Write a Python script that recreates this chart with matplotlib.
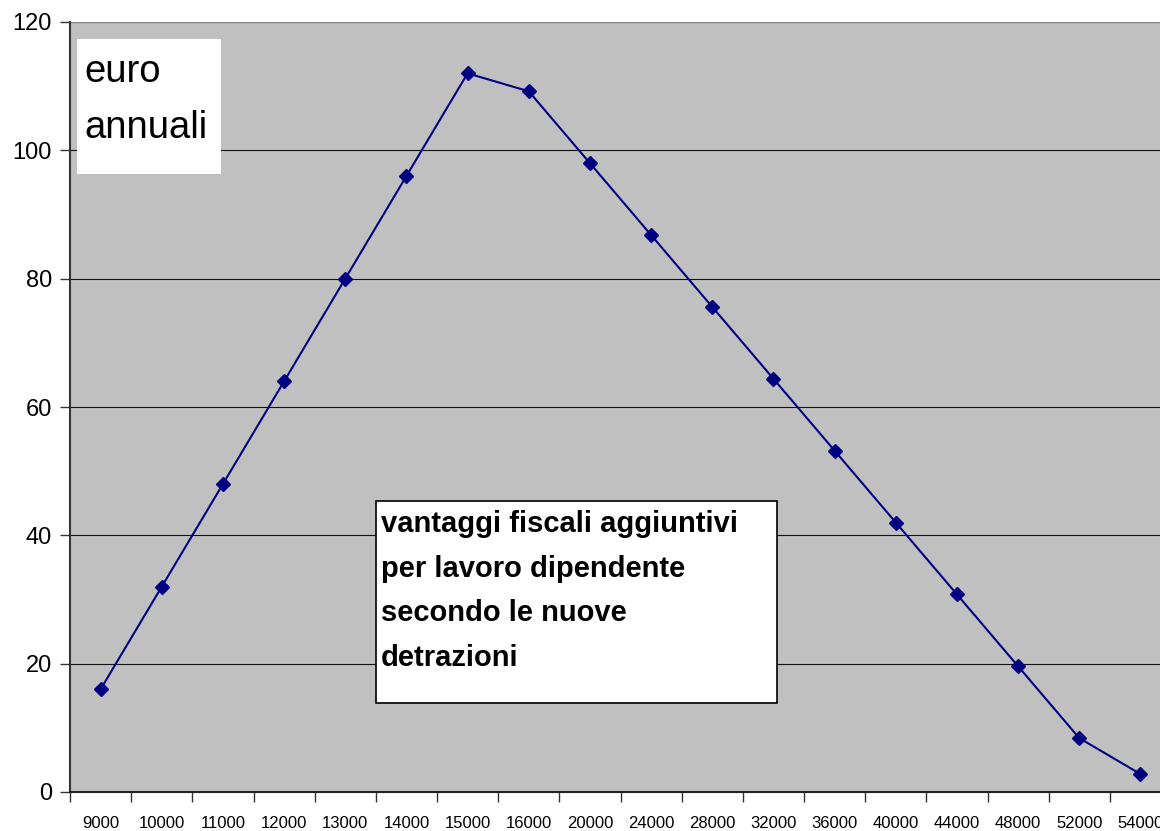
import matplotlib
matplotlib.use("Agg")
import matplotlib.pyplot as plt
import numpy as np

plt.rcParams['font.family'] = ['Liberation Sans', 'DejaVu Sans']

# redditi (categorie) e vantaggio annuo in euro
redditi = ['9000', '10000', '11000', '12000', '13000', '14000', '15000', '16000',
           '20000', '24000', '28000', '32000', '36000', '40000', '44000', '48000',
           '52000', '54000']
vantaggi = [16, 32, 48, 64, 80, 96, 112, 109.2, 98, 86.8, 75.6, 64.4, 53.2,
            42, 30.8, 19.6, 8.4, 2.8]
y_ticks = [0, 20, 40, 60, 80, 100, 120]

W, H = 1160, 831
fig = plt.figure(figsize=(W / 100, H / 100), dpi=100, facecolor='white')
# area del grafico: sinistra 70px, sopra 22px, sotto 792px, larghezza 18 categorie
ax = fig.add_axes([70 / W, (H - 792) / H, 1101 / W, 770 / H])
ax.set_facecolor('#C0C0C0')

x = np.arange(len(redditi))
ax.plot(x, vantaggi, color='#000080', lw=1.5, marker='D', markersize=7,
        markerfacecolor='#000080', markeredgecolor='#000080', zorder=3)

ax.set_xlim(-0.5, len(redditi) - 0.5)
ax.set_ylim(0, 120)
ax.set_yticks(y_ticks)
ax.set_yticklabels([str(v) for v in y_ticks], fontsize=17)
ax.yaxis.grid(True, color='#111111', lw=0.8)
ax.set_axisbelow(True)

ax.set_xticks(x)
ax.set_xticklabels(redditi, fontsize=12)
ax.set_xticks(np.arange(-0.5, len(redditi), 1), minor=True)
ax.tick_params(axis='x', which='major', length=0, pad=17)
ax.tick_params(axis='x', which='minor', length=7, width=1, color='#333333')
ax.tick_params(axis='y', length=7, width=1, color='#333333', pad=6)

for s in ['top', 'right']:
    ax.spines[s].set_visible(False)
ax.spines['left'].set_color('#333333')
ax.spines['left'].set_linewidth(1.5)
ax.spines['bottom'].set_color('#222222')
ax.spines['bottom'].set_linewidth(1.5)
ax.axhline(120, color='#808080', lw=1.5)

# riquadro "euro annuali"
fig.patches.append(plt.Rectangle((77 / W, 1 - 174 / H), 144 / W, 135 / H,
                                 transform=fig.transFigure, facecolor='white',
                                 edgecolor='none', zorder=5))
fig.text(84 / W, 1 - 54 / H, 'euro\nannuali', fontsize=27.5, va='top', ha='left',
         linespacing=1.72, zorder=6)

# riquadro descrizione
fig.patches.append(plt.Rectangle((376 / W, 1 - 703 / H), 401 / W, 202 / H,
                                 transform=fig.transFigure, facecolor='white',
                                 edgecolor='black', lw=1.2, zorder=5))
fig.text(381 / W, 1 - 510 / H,
         'vantaggi fiscali aggiuntivi\nper lavoro dipendente\nsecondo le nuove\ndetrazioni',
         fontsize=21, fontweight='bold', va='top', ha='left', linespacing=1.76,
         zorder=6)

fig.savefig('out.png', dpi=100)
